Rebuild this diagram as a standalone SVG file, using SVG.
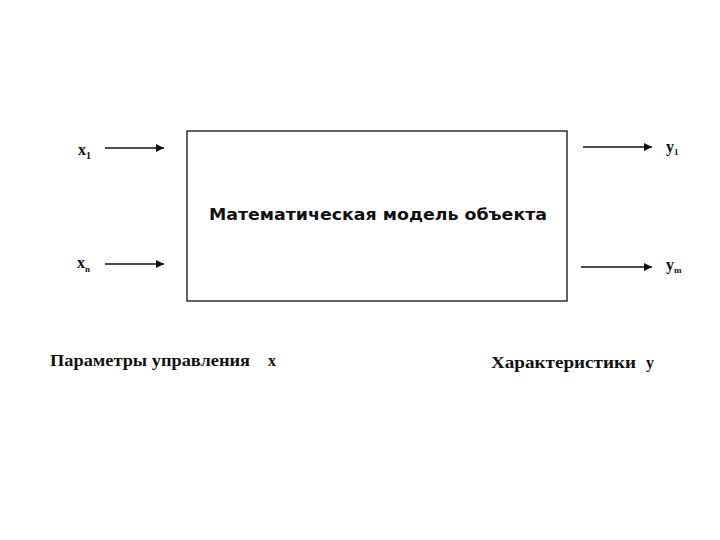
<svg xmlns="http://www.w3.org/2000/svg" width="720" height="540" viewBox="0 0 720 540">
<style>
.ln{stroke:#111;stroke-width:1.3;fill:none}
.lbl{font-family:"Liberation Serif",serif;fill:#111;font-weight:bold}
.cap{font-family:"Liberation Serif",serif;font-size:16px;font-weight:bold;fill:#111}
.ttl{font-family:"DejaVu Sans","Liberation Sans",sans-serif;font-weight:bold;font-size:16px;fill:#111}
</style>
<defs>
<marker id="ah" viewBox="0 0 10 10" refX="10" refY="5" markerWidth="11" markerHeight="8" markerUnits="userSpaceOnUse" orient="auto">
<path d="M0,0 L10,5 L0,10 z" fill="#111"/>
</marker>
</defs>
<rect width="720" height="540" fill="#fff"/>
<g id="model">
<rect x="187" y="131" width="380" height="170" class="ln"/>
<text x="378" y="220" text-anchor="middle" class="ttl" textLength="338" lengthAdjust="spacingAndGlyphs">Математическая модель объекта</text>
</g>
<g id="connectors">
<line x1="105" y1="148" x2="164" y2="148" class="ln" marker-end="url(#ah)"/>
<line x1="105" y1="264" x2="164" y2="264" class="ln" marker-end="url(#ah)"/>
<line x1="583" y1="147" x2="652" y2="147" class="ln" marker-end="url(#ah)"/>
<line x1="581" y1="267" x2="652" y2="267" class="ln" marker-end="url(#ah)"/>
</g>
<g id="x1"><text x="78" y="155" class="lbl" font-size="16">x<tspan font-size="10" dy="4">1</tspan></text></g>
<g id="xn"><text x="77" y="268" class="lbl" font-size="16">x<tspan font-size="9" dy="4">n</tspan></text></g>
<g id="y1"><text x="666" y="152" class="lbl" font-size="16">y<tspan font-size="9" dy="3">1</tspan></text></g>
<g id="ym"><text x="666" y="270" class="lbl" font-size="16">y<tspan font-size="9" dy="3">m</tspan></text></g>
<g id="params"><text x="50" y="366" class="cap" textLength="200" lengthAdjust="spacingAndGlyphs">Параметры управления</text><text x="268" y="366" class="cap">x</text></g>
<g id="chars"><text x="491" y="368" class="cap" textLength="145" lengthAdjust="spacingAndGlyphs">Характеристики</text><text x="646" y="368" class="cap">y</text></g>
</svg>
